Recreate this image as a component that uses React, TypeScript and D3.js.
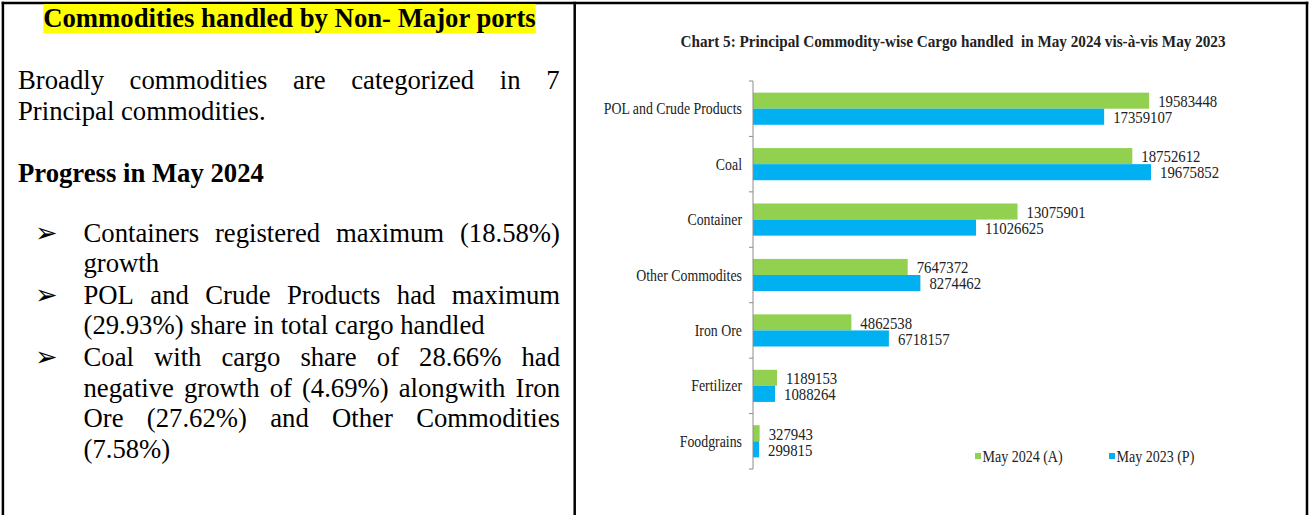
import React, { useRef, useEffect } from "react";
import * as d3 from "d3";

// chart data
const categories = [
  "POL and Crude Products",
  "Coal",
  "Container",
  "Other Commodites",
  "Iron Ore",
  "Fertilizer",
  "Foodgrains",
];
const may2024 = [19583448, 18752612, 13075901, 7647372, 4862538, 1189153, 327943];
const may2023 = [17359107, 19675852, 11026625, 8274462, 6718157, 1088264, 299815];
const seriesNames = ["May 2024 (A)", "May 2023 (P)"];
const seriesColors = ["#92D050", "#00B0F0"];
const chartTitle =
  "Chart 5: Principal Commodity-wise Cargo handled  in May 2024 vis-à-vis May 2023";

// left cell text, one entry per printed line
const heading = "Commodities handled by Non- Major ports";
const introLines = ["Broadly commodities are categorized in 7", "Principal commodities."];
const progressHeading = "Progress in May 2024";
const bullets = [
  ["Containers registered maximum (18.58%)", "growth"],
  ["POL and Crude Products had maximum", "(29.93%) share in total cargo handled"],
  [
    "Coal with cargo share of 28.66% had",
    "negative growth of (4.69%) alongwith Iron",
    "Ore (27.62%) and Other Commodities",
    "(7.58%)",
  ],
];

const W = 1312;
const H = 515;
const serif = "Liberation Serif";

// draws one line of text; justified lines get their words spread to fill x0..x1
function drawLine(g, text, x0, x1, y, justify) {
  if (!justify) {
    g.append("text").attr("x", x0).attr("y", y).style("font-family", serif).text(text);
    return;
  }
  const words = text.split(" ");
  const nodes = words.map((w) =>
    g.append("text").attr("y", y).style("font-family", serif).text(w)
  );
  const widths = nodes.map((n) => n.node().getComputedTextLength());
  const gap = (x1 - x0 - d3.sum(widths)) / (words.length - 1);
  let x = x0;
  nodes.forEach((n, i) => {
    n.attr("x", x);
    x += widths[i] + gap;
  });
}

export default function App() {
  const svgRef = useRef(null);

  useEffect(() => {
    const svg = d3.select(svgRef.current);
    svg.selectAll("*").remove();

    // table borders
    const borders = svg.append("g").attr("stroke", "#000").attr("stroke-width", 2.5);
    borders.append("line").attr("x1", 1.7).attr("x2", 1308.3).attr("y1", 2.9).attr("y2", 2.9);
    borders.append("line").attr("x1", 2.9).attr("x2", 2.9).attr("y1", 1.7).attr("y2", H);
    borders.append("line").attr("x1", 574.7).attr("x2", 574.7).attr("y1", 1.7).attr("y2", H);
    borders.append("line").attr("x1", 1307).attr("x2", 1307).attr("y1", 1.7).attr("y2", H);

    // ---------- left cell ----------
    const left = svg.append("g").attr("font-size", 26.7).attr("fill", "#000");

    // heading with yellow highlight behind it
    const hl = left.append("g").attr("font-weight", "bold");
    const hText = hl
      .append("text")
      .attr("x", 289.5)
      .attr("y", 26.7)
      .attr("text-anchor", "middle")
      .style("font-family", serif)
      .text(heading);
    const hw = hText.node().getComputedTextLength();
    hl.insert("rect", "text")
      .attr("x", 289.5 - hw / 2)
      .attr("width", hw)
      .attr("y", 4)
      .attr("height", 29.3)
      .attr("fill", "#FFFF00");

    const introY = [89.3, 120];
    introLines.forEach((line, i) =>
      drawLine(left, line, 18, 559.5, introY[i], i < introLines.length - 1)
    );

    left
      .append("text")
      .attr("x", 18)
      .attr("y", 181.7)
      .attr("font-weight", "bold")
      .style("font-family", serif)
      .text(progressHeading);

    const bulletY = [
      [242, 272],
      [304, 334],
      [366, 397, 427, 458],
    ];
    bullets.forEach((lines, b) => {
      left
        .append("text")
        .attr("x", 35)
        .attr("y", bulletY[b][0])
        .style("font-family", "DejaVu Sans")
        .attr("font-size", 27)
        .text("\u27A2");
      lines.forEach((line, i) => {
        // last line of each bullet is left aligned
        drawLine(left, line, 83.5, 560, bulletY[b][i], i < lines.length - 1);
      });
    });

    // ---------- right cell: bar chart ----------
    const chart = svg.append("g").style("font-family", serif).attr("fill", "#222");

    const xScale = d3.scaleLinear().domain([0, 25000000]).range([753, 1258.7]);
    const yScale = d3
      .scaleBand()
      .domain(categories)
      .range([81, 469])
      .paddingInner(0.42)
      .paddingOuter(0.21);
    const ySub = d3.scaleBand().domain(seriesNames).range([0, yScale.bandwidth()]);

    chart
      .append("text")
      .attr("x", 953)
      .attr("y", 47)
      .attr("text-anchor", "middle")
      .attr("font-weight", "bold")
      .attr("font-size", 16)
      .attr("textLength", 545)
      .attr("lengthAdjust", "spacingAndGlyphs")
      .style("white-space", "pre")
      .text(chartTitle);

    const rows = categories.map((c, i) => ({
      category: c,
      values: [may2024[i], may2023[i]],
    }));

    const groups = chart
      .selectAll(".cat")
      .data(rows)
      .join("g")
      .attr("class", "cat")
      .attr("transform", (d) => `translate(0,${yScale(d.category)})`);

    groups
      .selectAll("rect")
      .data((d) => d.values.map((v, k) => ({ v, k })))
      .join("rect")
      .attr("x", xScale(0))
      .attr("y", (d) => ySub(seriesNames[d.k]))
      .attr("width", (d) => xScale(d.v) - xScale(0))
      .attr("height", ySub.bandwidth())
      .attr("fill", (d) => seriesColors[d.k]);

    groups
      .selectAll(".val")
      .data((d) => d.values.map((v, k) => ({ v, k })))
      .join("text")
      .attr("class", "val")
      .attr("font-size", 17)
      .attr(
        "transform",
        (d) =>
          `translate(${xScale(d.v) + 9},${ySub(seriesNames[d.k]) + ySub.bandwidth() / 2 + 6.3}) scale(0.87,1)`
      )
      .text((d) => d.v);

    // category labels
    groups
      .append("text")
      .attr("font-size", 16.5)
      .attr("text-anchor", "end")
      .attr("transform", `translate(742,${yScale.bandwidth() / 2 + 5.5}) scale(0.84,1)`)
      .text((d) => d.category);

    // vertical axis with ticks between the categories
    const axis = chart.append("g").attr("stroke", "#8c8c8c").attr("stroke-width", 1);
    axis.append("line").attr("x1", 753).attr("x2", 753).attr("y1", 81).attr("y2", 469);
    const tickYs = categories.map((c) => yScale(c) - (yScale.step() * yScale.paddingInner()) / 2);
    tickYs.push(469);
    tickYs[0] = 81;
    axis
      .selectAll(".tick")
      .data(tickYs)
      .join("line")
      .attr("class", "tick")
      .attr("x1", 749)
      .attr("x2", 753)
      .attr("y1", (d) => d)
      .attr("y2", (d) => d);

    // legend
    const legendX = [975, 1109];
    const legend = chart
      .selectAll(".legend")
      .data(seriesNames)
      .join("g")
      .attr("class", "legend")
      .attr("transform", (d, i) => `translate(${legendX[i]},453)`);
    legend
      .append("rect")
      .attr("width", 6)
      .attr("height", 6)
      .attr("fill", (d, i) => seriesColors[i]);
    legend
      .append("text")
      .attr("font-size", 16.5)
      .attr("transform", "translate(7.5,8.5) scale(0.85,1)")
      .text((d) => d);
  }, []);

  return (
    <svg
      ref={svgRef}
      width={W}
      height={H}
      style={{ position: "absolute", left: 0, top: 0, background: "#fff" }}
    />
  );
}
